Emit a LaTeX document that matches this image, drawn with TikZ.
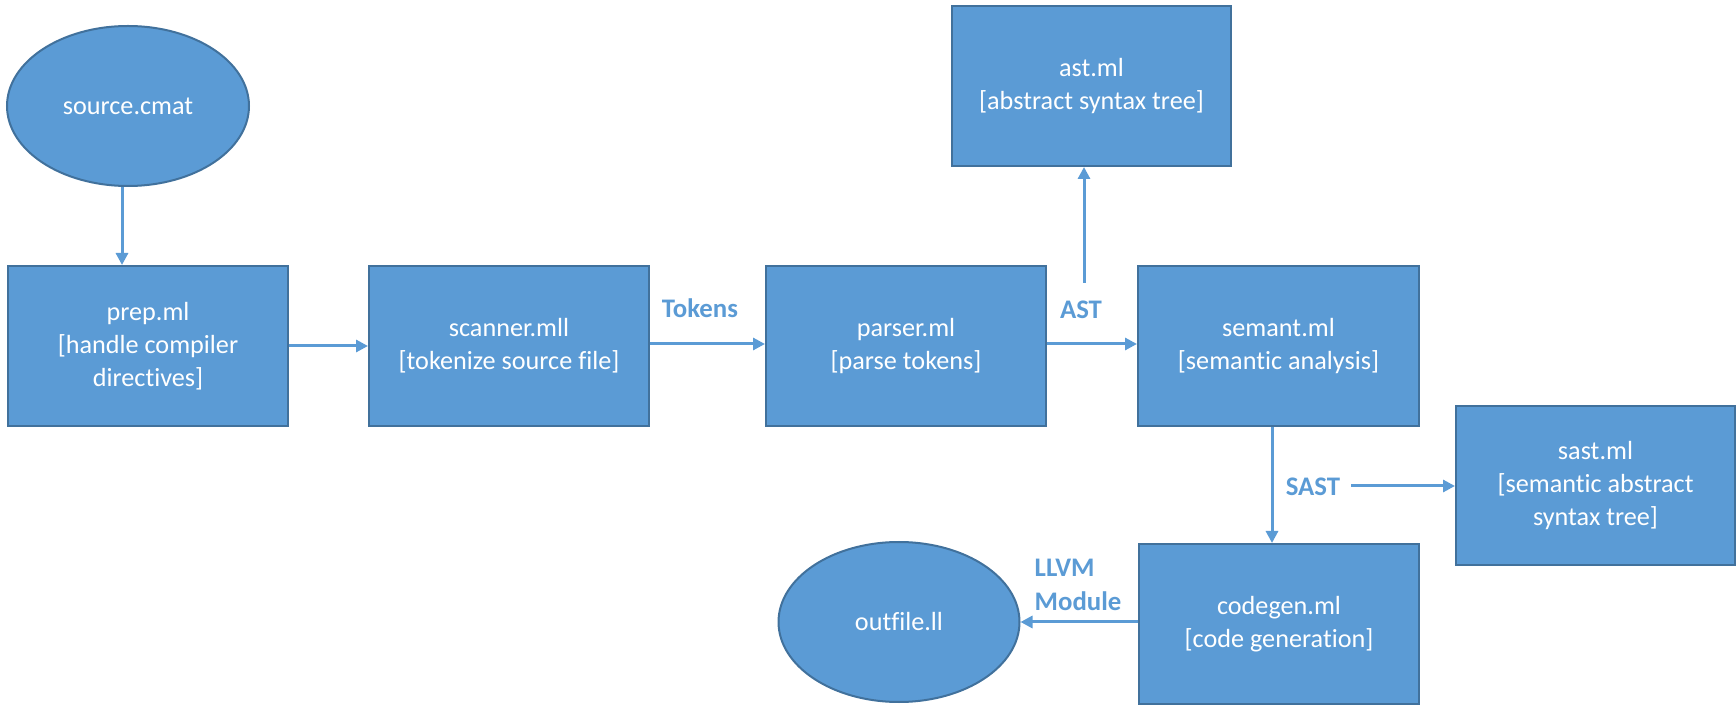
\documentclass[tikz,border=0pt]{standalone}
\usepackage{fontspec}
\setmainfont{Carlito}[Ligatures=NoCommon]
\usetikzlibrary{arrows.meta,shapes.geometric}
\definecolor{boxfill}{HTML}{5B9BD5}
\definecolor{boxline}{HTML}{41719C}
\definecolor{arrcol}{HTML}{5B9BD5}
\tikzset{
  blk/.style={rectangle, draw=boxline, line width=1pt, fill=boxfill, text=white,
    inner sep=0pt, align=center, font=\fontsize{13.1pt}{16.5pt}\selectfont},
  oval/.style={ellipse, draw=boxline, line width=1pt, fill=boxfill, text=white,
    inner sep=0pt, align=center, font=\fontsize{13.1pt}{16.5pt}\selectfont},
  arr/.style={draw=arrcol, line width=1.5pt, -{Triangle[length=6pt,width=6pt]}},
  lbl/.style={text=arrcol, font=\fontsize{13.4pt}{17pt}\selectfont\bfseries, inner sep=0pt}
}
\begin{document}
\begin{tikzpicture}[x=0.5pt,y=-0.5pt]
\useasboundingbox (0,0) rectangle (1736,705);
% nodes
\node[oval, minimum width=121pt, minimum height=80pt] (source) at (128,106) {source.cmat};
\node[blk, minimum width=140pt, minimum height=80pt] (prep) at (148,346) {prep.ml\\{[}handle compiler\\directives{]}};
\node[blk, minimum width=140pt, minimum height=80pt] (scanner) at (509,346) {scanner.mll\\{[}tokenize source file{]}};
\node[blk, minimum width=140pt, minimum height=80pt] (parser) at (906,346) {parser.ml\\{[}parse tokens{]}};
\node[blk, minimum width=140.5pt, minimum height=80pt] (semant) at (1278.5,346) {semant.ml\\{[}semantic analysis{]}};
\node[blk, minimum width=139.5pt, minimum height=80pt] (ast) at (1091.5,86) {ast.ml\\{[}abstract syntax tree{]}};
\node[blk, minimum width=139.5pt, minimum height=79.5pt] (sast) at (1595.5,485.5) {sast.ml\\{[}semantic abstract\\syntax tree{]}};
\node[blk, minimum width=140pt, minimum height=80pt] (codegen) at (1279,624) {codegen.ml\\{[}code generation{]}};
\node[oval, minimum width=120.5pt, minimum height=80pt] (outfile) at (899,622) {outfile.ll};
% labels
\node[lbl] (ltok) at (700,308) {Tokens};
\node[lbl] (last) at (1081,310) {AST};
\node[lbl] (lsast) at (1313,487) {SAST};
\node[lbl, align=left] (lllvm) at (1078,585) {LLVM\\Module};
% connectors
\draw[arr] ([xshift=-3pt]source.south) -- ([xshift=-3pt]source.south |- prep.north);
\draw[arr] (prep.east) -- (scanner.west);
\draw[arr] ([yshift=1pt]scanner.east) -- ([yshift=1pt]parser.west);
\draw[arr] ([yshift=1pt]parser.east) -- ([yshift=1pt]semant.west);
\coordinate (astfrom) at (1084,283);
\draw[arr] (astfrom) -- (astfrom |- ast.south);
\draw[arr] ([xshift=-3.25pt]semant.south) -- ([xshift=-3.25pt]semant.south |- codegen.north);
\coordinate (sastfrom) at (1351,486);
\draw[arr] (sastfrom) -- (sastfrom -| sast.west);
\draw[arr] ([yshift=1pt]codegen.west) -- (outfile.east);
\end{tikzpicture}
\end{document}
